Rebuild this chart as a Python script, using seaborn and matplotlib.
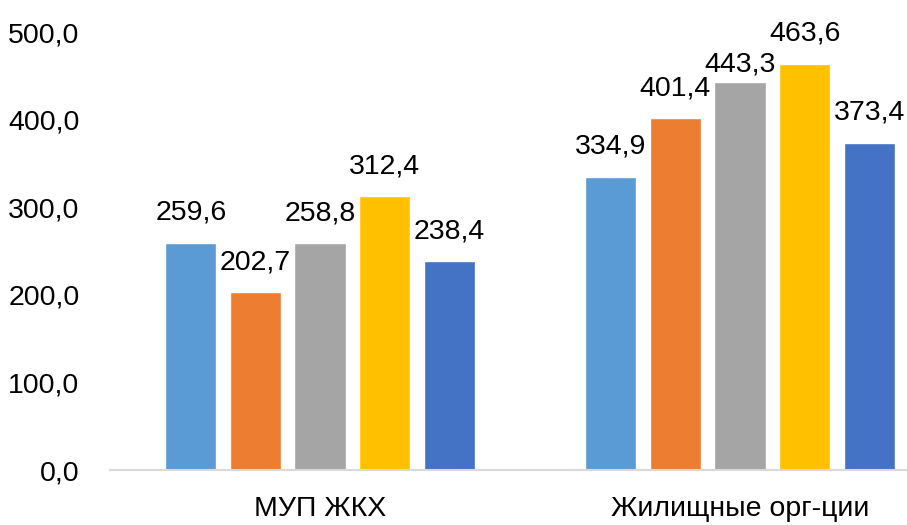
import matplotlib
matplotlib.use("Agg")
import matplotlib.pyplot as plt
import seaborn as sns
import pandas as pd
from matplotlib import font_manager

categories = ["МУП ЖКХ", "Жилищные орг-ции"]
series = ["Ряд 1", "Ряд 2", "Ряд 3", "Ряд 4", "Ряд 5"]
values_mup = [259.6, 202.7, 258.8, 312.4, 238.4]
values_zhil = [334.9, 401.4, 443.3, 463.6, 373.4]
colors = ["#5B9BD5", "#ED7D31", "#A5A5A5", "#FFC000", "#4472C4"]
yticks = [0, 100, 200, 300, 400, 500]

rows = []
for s, a, b in zip(series, values_mup, values_zhil):
    rows.append({"cat": categories[0], "series": s, "value": a})
    rows.append({"cat": categories[1], "series": s, "value": b})
df = pd.DataFrame(rows)

sns.set_theme(style="white")
names = {f.name for f in font_manager.fontManager.ttflist}
fam = ["Liberation Sans Narrow", "Liberation Sans", "DejaVu Sans"]
plt.rcParams["font.family"] = [f for f in fam if f in names] + ["DejaVu Sans"]

fig = plt.figure(figsize=(9.07, 5.25), dpi=100)
ax = fig.add_axes([110 / 907, 1 - 470 / 525, 840 / 907, (470 - 32) / 525])

sns.barplot(data=df, x="cat", y="value", hue="series", order=categories,
            hue_order=series, palette=colors, width=0.769, gap=0.21,
            ax=ax, legend=False, saturation=1)

ax.set_ylim(0, 500)
ax.set_xlim(-0.5, 1.5)
ax.set_yticks(yticks)
ax.set_yticklabels([f"{v:.1f}".replace(".", ",") for v in yticks], fontsize=20.5)
ax.tick_params(axis="y", length=0, pad=22, labelcolor="black")
ax.tick_params(axis="x", length=0, pad=19, labelsize=20.5, labelcolor="black")
ax.set_xlabel("")
ax.set_ylabel("")
for side in ["left", "right", "top"]:
    ax.spines[side].set_visible(False)
ax.spines["bottom"].set_color("#D9D9D9")
ax.spines["bottom"].set_linewidth(1.5)
ax.grid(False)

for ci, cont in enumerate(ax.containers):
    for bi, p in enumerate(cont.patches):
        h = p.get_height()
        off = 21.6
        if ci == 2 and bi == 1:
            off = 12.2
        ax.annotate(f"{h:.1f}".replace(".", ","),
                    (p.get_x() + p.get_width() / 2, h),
                    xytext=(0, off), textcoords="offset points",
                    ha="center", va="center", fontsize=20.5, color="black",
                    annotation_clip=False)

fig.savefig("out.png", dpi=100)
